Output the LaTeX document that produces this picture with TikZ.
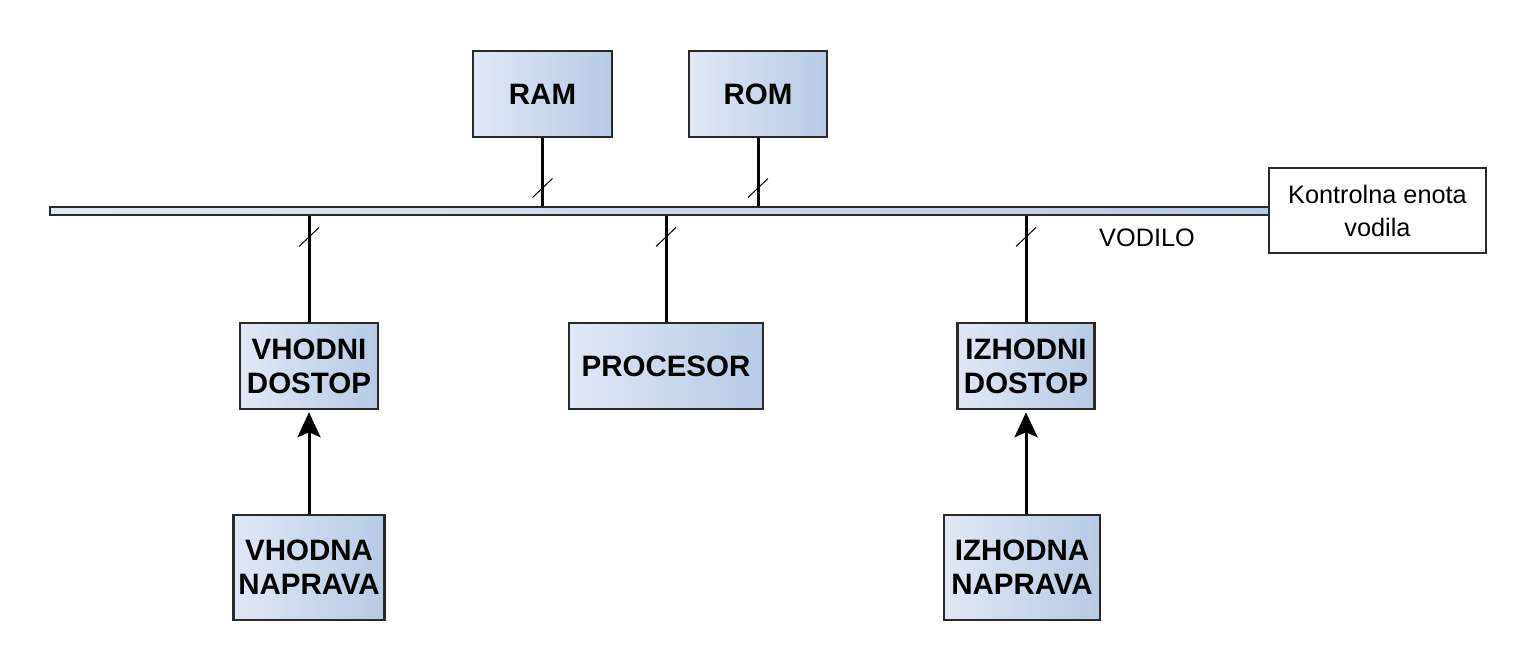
\documentclass[tikz,border=0pt]{standalone}
\usepackage{fontspec}
\setmainfont{Liberation Sans}
\usetikzlibrary{arrows.meta}
\definecolor{boxL}{HTML}{E0E8F5}
\definecolor{boxR}{HTML}{B7CAE5}
\definecolor{edge}{HTML}{2A2A2A}
\tikzset{
  unit/.style={draw=edge, line width=2.5pt, left color=boxL, right color=boxR,
    inner sep=0pt, align=center, font=\fontsize{29.5}{34}\selectfont\bfseries},
  plainbox/.style={draw=edge, line width=2pt, fill=white, inner sep=0pt,
    align=center, font=\fontsize{25.3}{33}\selectfont},
  wire/.style={line width=3pt, black},
  tick/.style={line width=1pt, black},
  feed/.style={line width=3pt, black, -{Stealth[length=25pt,width=23pt,inset=5pt]}, shorten >=2pt},
}
\begin{document}
\begin{tikzpicture}[x=1pt,y=-1pt]
\useasboundingbox (0,0) rectangle (1518,663);
% bus
\node[draw=edge, line width=2pt, left color=boxL, right color=boxR,
  minimum width=1219pt, minimum height=8pt, inner sep=0pt] (bus) at (659.5,211) {};
\node[plainbox, minimum width=217pt, minimum height=85pt] (ctl) at (1377.5,210.5) {Kontrolna enota\\vodila};
\node[font=\fontsize{25.3}{28}\selectfont, inner sep=0pt] (lbl) at (1147,238) {VODILO};
% units
\node[unit, minimum width=139pt, minimum height=86pt] (ram) at (542.5,94) {RAM};
\node[unit, minimum width=138pt, minimum height=86pt] (rom) at (758,94) {ROM};
\node[unit, minimum width=138pt, minimum height=86pt] (vd) at (309,366) {VHODNI\\DOSTOP};
\node[unit, minimum width=194pt, minimum height=86pt] (proc) at (666,366) {PROCESOR};
\node[unit, minimum width=137pt, minimum height=86pt] (id) at (1026,366) {IZHODNI\\DOSTOP};
\node[unit, minimum width=151pt, minimum height=105pt] (vn) at (309,567.5) {VHODNA\\NAPRAVA};
\node[unit, minimum width=156pt, minimum height=105pt] (in) at (1022,567.5) {IZHODNA\\NAPRAVA};
% wires to bus
\draw[wire] (ram.south) -- (ram.south |- bus.north);
\draw[wire] (rom.south) -- (rom.south |- bus.north);
\draw[wire] (vd.north) -- (vd.north |- bus.south);
\draw[wire] (proc.north) -- (proc.north |- bus.south);
\draw[wire] (id.north) -- (id.north |- bus.south);
% bus-width ticks
\draw[tick] ([shift={(-10,9.5)}]ram.south |- 0,188) -- ++(20,-19);
\draw[tick] ([shift={(-10,9.5)}]rom.south |- 0,188) -- ++(20,-19);
\draw[tick] ([shift={(-10,9.5)}]vd.north |- 0,237) -- ++(20,-19);
\draw[tick] ([shift={(-10,9.5)}]proc.north |- 0,237) -- ++(20,-19);
\draw[tick] ([shift={(-10,9.5)}]id.north |- 0,237) -- ++(20,-19);
% devices
\draw[feed] (vn.north) -- (vd.south);
\draw[feed] (in.north -| id.south) -- (id.south);
\end{tikzpicture}
\end{document}
